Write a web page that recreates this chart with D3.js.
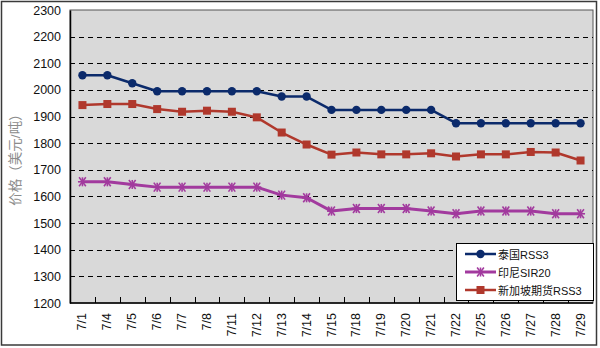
<!DOCTYPE html>
<html>
<head>
<meta charset="utf-8">
<script src="https://cdn.jsdelivr.net/npm/d3@7/dist/d3.min.js"></script>
<style>
  html, body { margin: 0; padding: 0; background: #fff; }
  svg { display: block; }
  text { font-family: "Liberation Sans", "Noto Sans CJK SC", sans-serif; }
</style>
</head>
<body>
<svg id="chart" width="600" height="348"></svg>
<script>
// Daily natural rubber prices, July (USD per tonne)
const dates = ["7/1","7/4","7/5","7/6","7/7","7/8","7/11","7/12","7/13","7/14","7/15",
               "7/18","7/19","7/20","7/21","7/22","7/25","7/26","7/27","7/28","7/29"];
const thaiRSS3 = [2055,2055,2025,1995,1995,1995,1995,1995,1975,1975,1925,
                  1925,1925,1925,1925,1875,1875,1875,1875,1875,1875];
const indoSIR20 = [1655,1655,1645,1635,1635,1635,1635,1635,1605,1595,1545,
                   1555,1555,1555,1545,1535,1545,1545,1545,1535,1535];
const sgxRSS3 = [1943,1947,1947,1928,1918,1922,1918,1897,1840,1795,1757,
                 1765,1758,1758,1762,1750,1758,1758,1767,1765,1735];
const yTicks = [1200,1300,1400,1500,1600,1700,1800,1900,2000,2100,2200,2300];
const seriesNames = ["泰国RSS3", "印尼SIR20", "新加坡期货RSS3"];
const yTitle = "价格（美元/吨）";

const series = [
  { name: seriesNames[0], values: thaiRSS3, color: "#0b2a6b", marker: "circle", width: 2.5 },
  { name: seriesNames[1], values: indoSIR20, color: "#a23a9e", marker: "star", width: 3 },
  { name: seriesNames[2], values: sgxRSS3, color: "#b0382c", marker: "square", width: 2.5 }
];

const svg = d3.select("#chart");
const plot = { left: 70, top: 10, right: 593, bottom: 303 };

// outer frame
svg.append("rect")
  .attr("x", 1.5).attr("y", 1.5).attr("width", 595).attr("height", 343.5)
  .attr("fill", "#fff").attr("stroke", "#3a3a3a").attr("stroke-width", 1.5);

const x = d3.scaleBand().domain(dates).range([plot.left, plot.right]);
const y = d3.scaleLinear().domain([1200, 2300]).range([plot.bottom, plot.top]);

// plot background
svg.append("rect")
  .attr("x", plot.left).attr("y", plot.top)
  .attr("width", plot.right - plot.left).attr("height", plot.bottom - plot.top)
  .attr("fill", "#d9d9d9").attr("stroke", "#555").attr("stroke-width", 1);

// dashed gridlines
svg.append("g").selectAll("line")
  .data(yTicks.filter(v => v > 1200 && v < 2300))
  .join("line")
  .attr("x1", plot.left).attr("x2", plot.right)
  .attr("y1", d => Math.round(y(d)) + 0.5).attr("y2", d => Math.round(y(d)) + 0.5)
  .attr("stroke", "#000").attr("stroke-width", 1).attr("stroke-dasharray", "5,4");

// y axis
const yAxis = svg.append("g")
  .attr("transform", `translate(${plot.left},0)`)
  .call(d3.axisLeft(y).tickValues(yTicks).tickFormat(d3.format("d")).tickSize(0).tickPadding(9));
yAxis.select(".domain").attr("stroke", "#000").attr("stroke-width", 1.5);
yAxis.selectAll("text").attr("font-size", 12.5).attr("fill", "#111")
  .attr("font-family", "Liberation Sans, sans-serif");

// x axis with inward ticks at category boundaries
const xAxisG = svg.append("g").attr("transform", `translate(0,${plot.bottom})`);
xAxisG.append("line")
  .attr("x1", plot.left).attr("x2", plot.right).attr("y1", 0).attr("y2", 0)
  .attr("stroke", "#000").attr("stroke-width", 1.5);
xAxisG.selectAll("line.tick")
  .data(dates.slice(1))
  .join("line").attr("class", "tick")
  .attr("x1", d => Math.round(x(d)) + 0.5).attr("x2", d => Math.round(x(d)) + 0.5)
  .attr("y1", 0).attr("y2", -6)
  .attr("stroke", "#000").attr("stroke-width", 1);
xAxisG.selectAll("text")
  .data(dates)
  .join("text")
  .attr("transform", d => `translate(${x(d) + x.bandwidth() / 2 + 4},10) rotate(-90)`)
  .attr("text-anchor", "end")
  .attr("font-size", 12.5).attr("fill", "#111")
  .text(d => d);

// y axis title
svg.append("text")
  .attr("transform", `translate(20,${(plot.top + plot.bottom) / 2}) rotate(-90)`)
  .attr("text-anchor", "middle")
  .attr("font-family", "Noto Sans CJK SC, sans-serif")
  .attr("font-size", 13.5).attr("fill", "#8c8c8c")
  .text(yTitle);

const line = d3.line()
  .x((d, i) => x(dates[i]) + x.bandwidth() / 2)
  .y(d => y(d));

function drawMarker(g, type, color) {
  if (type === "circle") {
    g.append("circle").attr("r", 4.2).attr("fill", color);
  } else if (type === "square") {
    g.append("rect").attr("x", -4).attr("y", -4).attr("width", 8).attr("height", 8).attr("fill", color);
  } else {
    const s = 4.5;
    [[-s, 0, s, 0], [-s * 0.75, -s, s * 0.75, s], [-s * 0.75, s, s * 0.75, -s], [0, -s, 0, s]]
      .forEach(p => g.append("line")
        .attr("x1", p[0]).attr("y1", p[1]).attr("x2", p[2]).attr("y2", p[3])
        .attr("stroke", color).attr("stroke-width", 1.6));
  }
}

series.forEach(s => {
  svg.append("path")
    .datum(s.values)
    .attr("d", line)
    .attr("fill", "none")
    .attr("stroke", s.color)
    .attr("stroke-width", s.width)
    .attr("stroke-linejoin", "round");
  s.values.forEach((v, i) => {
    const g = svg.append("g")
      .attr("transform", `translate(${x(dates[i]) + x.bandwidth() / 2},${y(v)})`);
    drawMarker(g, s.marker, s.color);
  });
});

// legend
const lg = svg.append("g").attr("transform", "translate(456,243)");
lg.append("rect").attr("x", 0.5).attr("y", 0.5).attr("width", 137).attr("height", 57)
  .attr("fill", "#fff").attr("stroke", "#000").attr("stroke-width", 1);
series.forEach((s, i) => {
  const row = lg.append("g").attr("transform", `translate(0,${11 + i * 18})`);
  row.append("line").attr("x1", 9).attr("x2", 40).attr("y1", 0).attr("y2", 0)
    .attr("stroke", s.color).attr("stroke-width", s.width);
  drawMarker(row.append("g").attr("transform", "translate(24.5,0)"), s.marker, s.color);
  row.append("text").attr("x", 42).attr("y", 4.5)
    .attr("font-size", 11).attr("fill", "#111")
    .text(s.name);
});
</script>
</body>
</html>
